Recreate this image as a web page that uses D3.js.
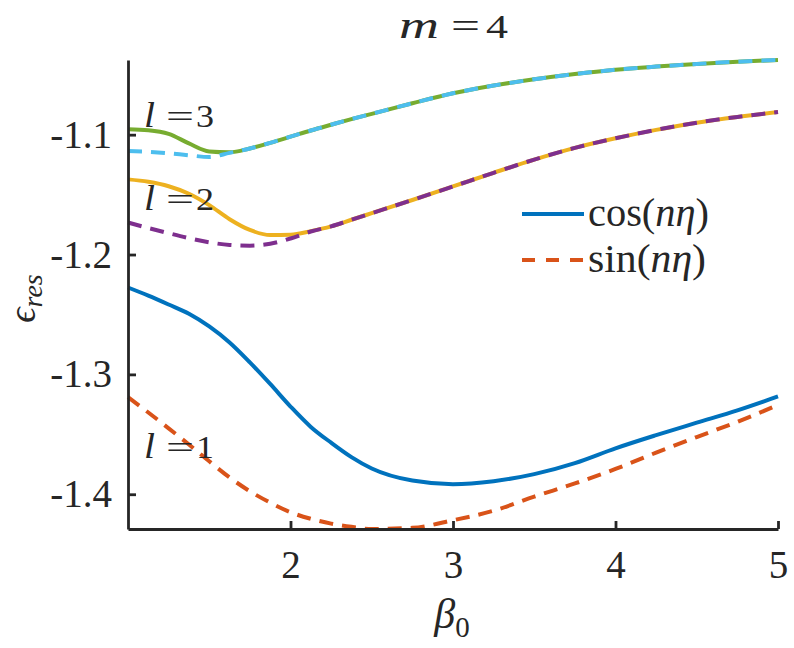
<!DOCTYPE html>
<html>
<head>
<meta charset="utf-8">
<script src="https://cdn.jsdelivr.net/npm/d3@7"></script>
<style>
  html, body { margin: 0; padding: 0; background: #ffffff; }
  svg { display: block; }
  text { font-family: "Liberation Serif", "DejaVu Serif", serif; fill: #262626; }
</style>
</head>
<body>
<svg id="chart" width="794" height="648"></svg>
<script>
// ---- data ----
const beta = [1, 1.125, 1.25, 1.375, 1.5, 1.625, 1.75, 1.875, 2, 2.125, 2.25, 2.375, 2.5,
              2.75, 3, 3.25, 3.5, 3.75, 4, 4.25, 4.5, 4.75, 5];

const cosL1 = [-1.2275,-1.2343,-1.2417,-1.2494,-1.2600,-1.2734,-1.2900,-1.3080,-1.3268,-1.3438,-1.3570,-1.3690,-1.3785,
               -1.3886,-1.3916,-1.3891,-1.3832,-1.3740,-1.3617,-1.3507,-1.3403,-1.3300,-1.3184];
const sinL1 = [-1.3190,-1.3318,-1.3450,-1.3585,-1.3725,-1.3860,-1.3975,-1.4070,-1.4150,-1.4205,-1.4245,-1.4272,-1.4290,
               -1.4280,-1.4217,-1.4137,-1.4020,-1.3910,-1.3789,-1.3653,-1.3523,-1.3396,-1.3255];
const cosL2 = [-1.1373,-1.1393,-1.1430,-1.1493,-1.1588,-1.1705,-1.1795,-1.1838,-1.1835,-1.1805,-1.1765,-1.1710,-1.1655,
               -1.1545,-1.1432,-1.1318,-1.1208,-1.1110,-1.1030,-1.0960,-1.0900,-1.0852,-1.0811];
const sinL2 = [-1.1733,-1.1779,-1.1822,-1.1863,-1.1898,-1.1920,-1.1926,-1.1910,-1.1866,-1.1808,-1.1765,-1.1710,-1.1655,
               -1.1545,-1.1432,-1.1318,-1.1208,-1.1110,-1.1030,-1.0960,-1.0900,-1.0852,-1.0811];
const cosL3 = [-1.0955,-1.0963,-1.0993,-1.1073,-1.1140,-1.1147,-1.1115,-1.1068,-1.1017,-1.0965,-1.0917,-1.0870,-1.0826,
               -1.0738,-1.0655,-1.0590,-1.0538,-1.0494,-1.0458,-1.0432,-1.0410,-1.0391,-1.0377];
const sinL3 = [-1.1137,-1.1143,-1.1155,-1.1172,-1.1186,-1.1152,-1.1115,-1.1068,-1.1017,-1.0965,-1.0917,-1.0870,-1.0826,
               -1.0738,-1.0655,-1.0590,-1.0538,-1.0494,-1.0458,-1.0432,-1.0410,-1.0391,-1.0377];

const xTicks = [2, 3, 4, 5];
const yTicks = [-1.4, -1.3, -1.2, -1.1];
const lLabels = ["3", "2", "1"];
const lLabelAt = [-1.0935, -1.1627, -1.3697];   // baseline values of the l-labels
const legendNames = [["cos(", "nη", ")"], ["sin(", "nη", ")"]];

// ---- layout ----
const svg = d3.select("#chart");
const mLeft = 128, mRight = 778, mTop = 60, mBottom = 529;
const axisColor = "#262626";
const dashed = "14,9";

const series = [
  { v: cosL1, color: "#0072BD", dash: null },
  { v: sinL1, color: "#D95319", dash: dashed },
  { v: cosL2, color: "#EDB120", dash: null },
  { v: sinL2, color: "#7E2F8E", dash: dashed },
  { v: cosL3, color: "#77AC30", dash: null },
  { v: sinL3, color: "#4DBEEE", dash: dashed }
];

const allVals = series.flatMap(s => s.v);
const x = d3.scaleLinear().domain([1, 5]).range([mLeft, mRight]);
const y = d3.scaleLinear().domain([d3.min(allVals), d3.max(allVals)]).range([mBottom, mTop]);

// ---- lines ----
const line = d3.line()
  .x((d, i) => x(beta[i]))
  .y(d => y(d))
  .curve(d3.curveMonotoneX);

const gLines = svg.append("g");
series.forEach(s => {
  gLines.append("path")
    .attr("d", line(s.v))
    .attr("fill", "none")
    .attr("stroke", s.color)
    .attr("stroke-width", 4)
    .attr("stroke-dasharray", s.dash)
    .attr("stroke-linejoin", "round");
});

// ---- axes ----
const yAxis = d3.axisLeft(y).tickValues(yTicks).tickSize(-8).tickSizeOuter(0)
  .tickPadding(16).tickFormat(d => d.toFixed(1));
const xAxis = d3.axisBottom(x).tickValues(xTicks).tickSize(-8).tickSizeOuter(0)
  .tickPadding(21).tickFormat(d => String(d));

const gy = svg.append("g").attr("transform", `translate(${mLeft},0)`).call(yAxis);
const gx = svg.append("g").attr("transform", `translate(0,${mBottom})`).call(xAxis);
[gx, gy].forEach(g => {
  g.select(".domain").attr("stroke", axisColor).attr("stroke-width", 2.8);
  g.selectAll(".tick line").attr("stroke", axisColor).attr("stroke-width", 2.8);
  g.selectAll(".tick text")
    .style("font-family", '"Liberation Serif", "DejaVu Serif", serif')
    .style("font-size", "39px")
    .attr("fill", axisColor);
});

// helper: a piece of text stretched to a given width
function piece(xPos, yPos, str, size, width, italic) {
  return svg.append("text")
    .attr("x", xPos).attr("y", yPos)
    .attr("textLength", width).attr("lengthAdjust", "spacingAndGlyphs")
    .style("font-size", size + "px")
    .style("font-style", italic ? "italic" : "normal")
    .text(str);
}

// ---- title  "m =4" ----
piece(399, 38, "m", 37, 40, true);
piece(451, 38, "=", 36, 29, false);
piece(486, 38, "4", 34, 22, false);

// ---- axis labels ----
const xl = svg.append("text")
  .attr("x", 452).attr("y", 628)
  .attr("text-anchor", "middle")
  .style("font-size", "42px");
xl.append("tspan").style("font-style", "italic").text("β");
xl.append("tspan").attr("dy", 9).style("font-size", "29px").text("0");

const yl = svg.append("text")
  .attr("transform", `translate(35,${(mTop + mBottom) / 2 + 4}) rotate(-90)`)
  .attr("text-anchor", "middle")
  .style("font-size", "38px");
yl.append("tspan").style("font-style", "italic").text("ϵ");
yl.append("tspan").attr("dy", 7).style("font-size", "28px").style("font-style", "italic").text("res");

// ---- l labels  "l =3" etc. ----
lLabels.forEach((lab, i) => {
  const yy = y(lLabelAt[i]);
  piece(144, yy, "l", 36, 11, true);
  piece(166, yy, "=", 32, 28, false);
  piece(196, yy, lab, 32, 18, false);
});

// ---- legend ----
const legendY = [214, 260];
const legendW = [121, 118];
const legendSeries = [series[0], series[1]];
legendSeries.forEach((s, i) => {
  svg.append("line")
    .attr("x1", 522).attr("x2", 584)
    .attr("y1", legendY[i]).attr("y2", legendY[i])
    .attr("stroke", s.color)
    .attr("stroke-width", 4)
    .attr("stroke-dasharray", s.dash ? "13,11" : null);
  const t = svg.append("text")
    .attr("x", 588).attr("y", legendY[i] + 12)
    .attr("textLength", legendW[i]).attr("lengthAdjust", "spacingAndGlyphs")
    .style("font-size", "40px");
  t.append("tspan").text(legendNames[i][0]);
  t.append("tspan").style("font-style", "italic").text(legendNames[i][1]);
  t.append("tspan").text(legendNames[i][2]);
});
</script>
</body>
</html>
